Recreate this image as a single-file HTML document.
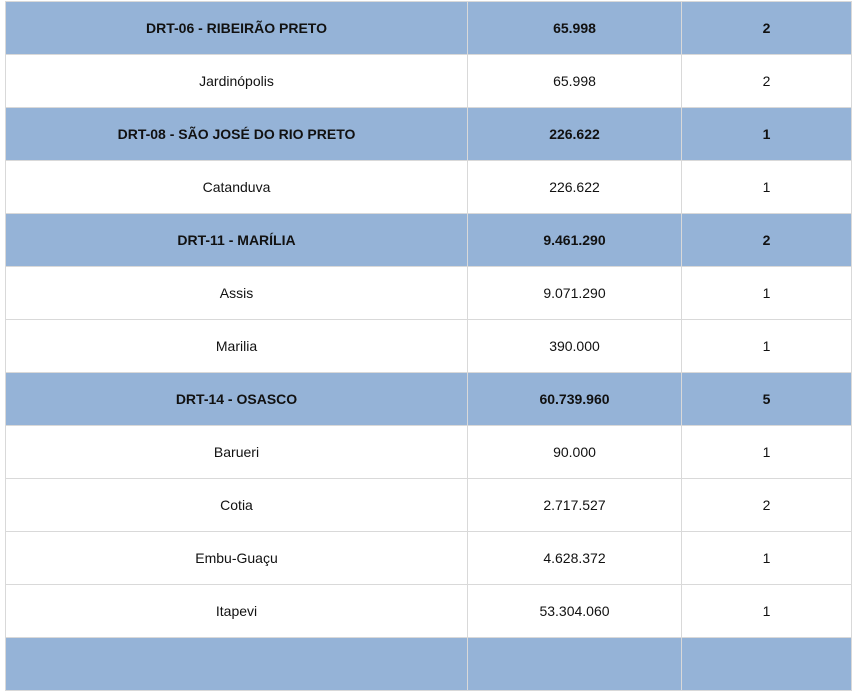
<!DOCTYPE html>
<html><head><meta charset="utf-8"><style>
body{margin:0;width:864px;height:641px;overflow:hidden;background:#fff;font-family:"Liberation Sans",Arial,sans-serif;}
table{position:absolute;left:5px;top:1px;border-collapse:collapse;table-layout:fixed;}
td{border:1px solid #d9d9d9;height:52px;padding:0;text-align:center;font-size:14px;color:#111;}
tr.h td{background:#95b3d7;font-weight:bold;}
</style></head><body>
<table>
<colgroup><col style="width:462px"><col style="width:214px"><col style="width:170px"></colgroup>
<tr class="h"><td>DRT-06 - RIBEIRÃO PRETO</td><td>65.998</td><td>2</td></tr>
<tr><td>Jardinópolis</td><td>65.998</td><td>2</td></tr>
<tr class="h"><td>DRT-08 - SÃO JOSÉ DO RIO PRETO</td><td>226.622</td><td>1</td></tr>
<tr><td>Catanduva</td><td>226.622</td><td>1</td></tr>
<tr class="h"><td>DRT-11 - MARÍLIA</td><td>9.461.290</td><td>2</td></tr>
<tr><td>Assis</td><td>9.071.290</td><td>1</td></tr>
<tr><td>Marilia</td><td>390.000</td><td>1</td></tr>
<tr class="h"><td>DRT-14 - OSASCO</td><td>60.739.960</td><td>5</td></tr>
<tr><td>Barueri</td><td>90.000</td><td>1</td></tr>
<tr><td>Cotia</td><td>2.717.527</td><td>2</td></tr>
<tr><td>Embu-Guaçu</td><td>4.628.372</td><td>1</td></tr>
<tr><td>Itapevi</td><td>53.304.060</td><td>1</td></tr>
<tr class="h"><td></td><td></td><td></td></tr>
</table>
</body></html>
